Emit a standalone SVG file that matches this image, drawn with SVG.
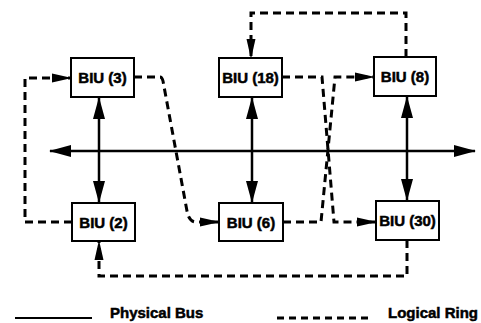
<svg xmlns="http://www.w3.org/2000/svg" width="481" height="323" viewBox="0 0 481 323">
<style>
.box{fill:#fff;stroke:#000;stroke-width:2}
.lbl{font-family:"Liberation Sans",Arial,sans-serif;font-weight:bold;font-size:15px;fill:#000;stroke:#000;stroke-width:0.5;text-anchor:middle}
.bus{fill:none;stroke:#000;stroke-width:2.5}
.ring{fill:none;stroke:#000;stroke-width:3;stroke-dasharray:8 5}
.leg{font-family:"Liberation Sans",Arial,sans-serif;font-weight:bold;font-size:15px;fill:#000;stroke:#000;stroke-width:0.5}
</style>
<defs>
<marker id="ab" markerUnits="userSpaceOnUse" markerWidth="22" markerHeight="14" refX="21" refY="6" orient="auto-start-reverse" viewBox="0 0 22 12">
<path d="M0,0 L22,6 L0,12 Z" fill="#000"/>
</marker>
<marker id="ar" markerUnits="userSpaceOnUse" markerWidth="20" markerHeight="10" refX="19" refY="4.5" orient="auto" viewBox="0 0 20 9">
<path d="M0,0 L20,4.5 L0,9 Z" fill="#000"/>
</marker>
</defs>
<g id="connectors">
<line class="bus" x1="50" y1="151" x2="475" y2="151" marker-start="url(#ab)" marker-end="url(#ab)"/>
<line class="bus" x1="99" y1="98" x2="99" y2="202" marker-start="url(#ab)" marker-end="url(#ab)"/>
<line class="bus" x1="252" y1="98" x2="252" y2="202" marker-start="url(#ab)" marker-end="url(#ab)"/>
<line class="bus" x1="407" y1="97" x2="407" y2="200" marker-start="url(#ab)" marker-end="url(#ab)"/>
<path class="ring" d="M134,77 L160,77 Q162,77 163,81 L187,211 Q189,222 196,222 L219,222" marker-end="url(#ar)"/>
<path class="ring" d="M283,222 L321,222 L335,77 L374,77" marker-end="url(#ar)"/>
<path class="ring" d="M406,57 L406,13 L251,13 L251,58" marker-end="url(#ar)"/>
<path class="ring" d="M282,77 L322,77 L334,222 L376,222" marker-end="url(#ar)"/>
<path class="ring" d="M407,240 L407,276 L99,276 L99,241" marker-end="url(#ar)"/>
<path class="ring" d="M72,222 L25,222 L25,78 L71,78" marker-end="url(#ar)"/>
</g>
<g id="biu3"><rect class="box" x="71" y="58" width="63" height="39"/><text class="lbl" x="102.5" y="83">BIU (3)</text></g>
<g id="biu18"><rect class="box" x="219" y="58" width="63" height="39"/><text class="lbl" x="250.5" y="83">BIU (18)</text></g>
<g id="biu8"><rect class="box" x="374" y="57" width="62" height="39"/><text class="lbl" x="405" y="82">BIU (8)</text></g>
<g id="biu2"><rect class="box" x="72" y="203" width="63" height="38"/><text class="lbl" x="103.5" y="227.5">BIU (2)</text></g>
<g id="biu6"><rect class="box" x="219" y="203" width="64" height="38"/><text class="lbl" x="251" y="227.5">BIU (6)</text></g>
<g id="biu30"><rect class="box" x="376" y="201" width="63" height="39"/><text class="lbl" x="407.5" y="226">BIU (30)</text></g>
<g id="legend">
<line x1="15" y1="318" x2="92" y2="318" stroke="#000" stroke-width="2"/>
<text class="leg" x="110" y="318">Physical Bus</text>
<line x1="277" y1="318" x2="368" y2="318" stroke="#000" stroke-width="3" stroke-dasharray="7 5"/>
<text class="leg" x="388" y="318">Logical Ring</text>
</g>
</svg>
